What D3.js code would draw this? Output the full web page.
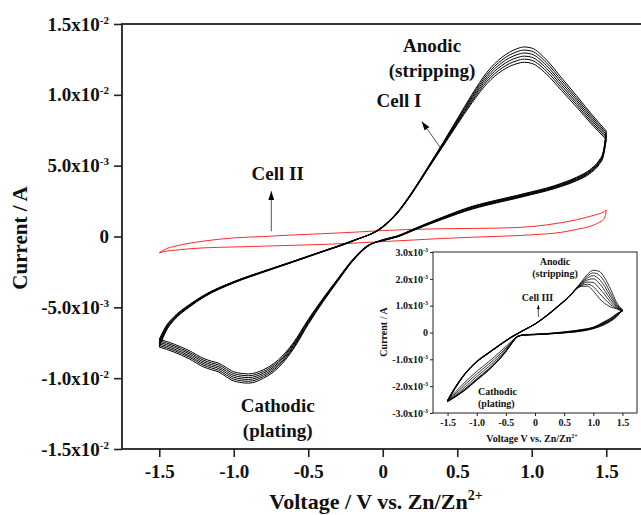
<!DOCTYPE html>
<html>
<head>
<meta charset="utf-8" />
<script src="https://d3js.org/d3.v7.min.js"></script>
<style>
  body { margin: 0; background: #fff; }
  svg text { font-family: "Liberation Serif", "Times New Roman", serif; font-weight: bold; fill: #111; }
</style>
</head>
<body>
<script>
// ---- main plot data (current in mA) ----
// Cell I, forward sweep (-1.5 -> 1.5 V), one row per cycle
var cellIFwdV = [-1.5,-1.45,-1.4,-1.3,-1.2,-1.0,-0.8,-0.6,-0.4,-0.2,0.0,0.1,0.2,0.3,0.4,0.5,0.6,0.7,0.8,0.9,0.95,1.0,1.1,1.2,1.3,1.4,1.5];
var cellIFwdI = [
  [-7.80,-6.60,-5.90,-5.00,-4.28,-3.28,-2.52,-1.80,-1.07,-0.33,0.72,1.75,3.20,4.85,6.55,8.30,10.05,11.60,12.65,13.25,13.38,13.30,12.45,11.20,9.95,8.65,7.45],
  [-7.69,-6.53,-5.85,-4.96,-4.25,-3.26,-2.50,-1.79,-1.06,-0.32,0.70,1.73,3.18,4.82,6.50,8.22,9.93,11.44,12.46,13.04,13.16,13.08,12.25,11.02,9.79,8.51,7.33],
  [-7.58,-6.46,-5.80,-4.93,-4.22,-3.24,-2.49,-1.78,-1.05,-0.31,0.69,1.71,3.15,4.79,6.45,8.14,9.81,11.28,12.27,12.83,12.95,12.87,12.05,10.84,9.63,8.37,7.21],
  [-7.47,-6.39,-5.75,-4.89,-4.20,-3.22,-2.47,-1.76,-1.04,-0.30,0.67,1.69,3.13,4.76,6.40,8.06,9.69,11.12,12.08,12.62,12.73,12.65,11.85,10.66,9.47,8.23,7.09],
  [-7.36,-6.32,-5.70,-4.86,-4.17,-3.20,-2.46,-1.75,-1.03,-0.29,0.66,1.67,3.10,4.73,6.35,7.98,9.57,10.96,11.89,12.41,12.52,12.44,11.65,10.48,9.31,8.09,6.97],
  [-7.25,-6.25,-5.65,-4.82,-4.14,-3.18,-2.44,-1.74,-1.02,-0.28,0.64,1.65,3.08,4.70,6.30,7.90,9.45,10.80,11.70,12.20,12.30,12.22,11.45,10.30,9.15,7.95,6.85]
];
// Cell I, reverse sweep (1.5 -> -1.5 V)
var cellIRevV = [1.5,1.48,1.45,1.4,1.3,1.2,1.1,1.0,0.9,0.8,0.7,0.6,0.5,0.4,0.3,0.2,0.1,0.0,-0.1,-0.2,-0.3,-0.4,-0.5,-0.6,-0.7,-0.8,-0.9,-1.0,-1.05,-1.1,-1.15,-1.2,-1.3,-1.4,-1.5];
var cellIRevI = [
  [7.45,6.00,5.35,4.80,4.18,3.76,3.42,3.16,2.90,2.66,2.41,2.13,1.77,1.36,0.94,0.50,0.05,-0.22,-0.70,-1.72,-3.13,-4.60,-6.20,-7.95,-9.25,-10.00,-10.35,-10.20,-9.90,-9.57,-9.40,-9.22,-8.63,-8.16,-7.80],
  [7.33,5.93,5.29,4.74,4.13,3.72,3.38,3.12,2.86,2.62,2.37,2.09,1.73,1.33,0.92,0.48,0.03,-0.24,-0.68,-1.70,-3.09,-4.55,-6.13,-7.86,-9.14,-9.88,-10.22,-10.07,-9.77,-9.45,-9.28,-9.10,-8.51,-8.05,-7.69],
  [7.21,5.86,5.23,4.69,4.08,3.67,3.34,3.08,2.82,2.58,2.33,2.05,1.70,1.30,0.89,0.46,0.02,-0.25,-0.67,-1.67,-3.06,-4.50,-6.06,-7.77,-9.03,-9.76,-10.09,-9.94,-9.64,-9.32,-9.16,-8.98,-8.40,-7.94,-7.58],
  [7.09,5.79,5.17,4.63,4.03,3.63,3.30,3.04,2.78,2.54,2.29,2.01,1.66,1.27,0.87,0.44,0.00,-0.27,-0.65,-1.65,-3.02,-4.45,-5.99,-7.68,-8.92,-9.64,-9.96,-9.81,-9.51,-9.20,-9.04,-8.86,-8.28,-7.82,-7.47],
  [6.97,5.72,5.11,4.58,3.98,3.58,3.26,3.00,2.74,2.50,2.25,1.97,1.63,1.24,0.84,0.42,-0.01,-0.28,-0.64,-1.62,-2.99,-4.40,-5.92,-7.59,-8.81,-9.52,-9.83,-9.68,-9.38,-9.07,-8.92,-8.74,-8.17,-7.71,-7.36],
  [6.85,5.65,5.05,4.52,3.93,3.54,3.22,2.96,2.70,2.46,2.21,1.93,1.59,1.21,0.82,0.40,-0.03,-0.30,-0.62,-1.60,-2.95,-4.35,-5.85,-7.50,-8.70,-9.40,-9.70,-9.55,-9.25,-8.95,-8.80,-8.62,-8.05,-7.60,-7.25]
];
// Cell II (red)
var cellIIUpV = [-1.5,-1.45,-1.4,-1.3,-1.2,-1.0,-0.8,-0.6,-0.4,-0.2,0,0.2,0.4,0.6,0.8,1.0,1.1,1.2,1.3,1.4,1.45,1.48,1.5];
var cellIIUpI = [-1.15,-0.85,-0.70,-0.48,-0.32,-0.10,0.00,0.11,0.20,0.30,0.42,0.50,0.55,0.57,0.60,0.70,0.82,0.98,1.18,1.45,1.60,1.72,1.88];
var cellIILoV = [-1.5,-1.45,-1.4,-1.3,-1.2,-1.0,-0.8,-0.6,-0.4,-0.2,0,0.2,0.4,0.6,0.8,1.0,1.2,1.3,1.4,1.45,1.48,1.495,1.5];
var cellIILoI = [-1.15,-1.03,-0.97,-0.87,-0.80,-0.74,-0.68,-0.62,-0.56,-0.47,-0.36,-0.25,-0.14,-0.05,0.02,0.12,0.30,0.50,0.75,0.98,1.20,1.50,1.88];

var mainXTicks = [-1.5,-1.0,-0.5,0,0.5,1.0,1.5];
var mainXLabels = ["-1.5","-1.0","-0.5","0","0.5","1.0","1.5"];
var mainYTicks = [-15,-10,-5,0,5,10,15];
var mainYBase = ["-1.5x10","-1.0x10","-5.0x10","0","5.0x10","1.0x10","1.5x10"];
var mainYExp  = ["-2","-2","-3","","-3","-2","-2"];

// ---- inset data: Cell III (current in mA) ----
var cellIIIFwdV = [-1.5,-1.4,-1.2,-1.0,-0.8,-0.6,-0.4,-0.2,0,0.2,0.4,0.6,0.7,0.8,0.9,1.0,1.1,1.2,1.3,1.4,1.5];
var cellIIIFwdI = [
  [-2.58,-2.20,-1.55,-1.10,-0.78,-0.47,-0.18,0.07,0.32,0.64,1.00,1.39,1.63,1.90,2.17,2.32,2.28,2.02,1.60,1.12,0.85],
  [-2.57,-2.19,-1.55,-1.10,-0.78,-0.47,-0.18,0.07,0.32,0.64,1.00,1.38,1.63,1.87,2.10,2.22,2.14,1.86,1.45,1.05,0.84],
  [-2.56,-2.18,-1.54,-1.09,-0.77,-0.46,-0.17,0.07,0.32,0.63,0.99,1.38,1.62,1.84,2.03,2.12,1.99,1.70,1.33,1.00,0.83],
  [-2.55,-2.17,-1.54,-1.09,-0.77,-0.46,-0.17,0.08,0.32,0.63,0.99,1.37,1.62,1.81,1.96,2.00,1.84,1.55,1.22,0.97,0.82],
  [-2.54,-2.16,-1.53,-1.08,-0.76,-0.45,-0.16,0.08,0.31,0.62,0.98,1.37,1.61,1.78,1.88,1.86,1.66,1.40,1.12,0.93,0.81],
  [-2.53,-2.15,-1.53,-1.08,-0.76,-0.45,-0.16,0.08,0.31,0.62,0.98,1.36,1.61,1.75,1.80,1.71,1.47,1.24,1.03,0.90,0.80],
  [-2.52,-2.14,-1.52,-1.07,-0.75,-0.44,-0.15,0.09,0.31,0.61,0.97,1.36,1.60,1.72,1.73,1.55,1.28,1.08,0.95,0.88,0.80]
];
var cellIIIRevV = [1.5,1.4,1.3,1.2,1.0,0.8,0.6,0.4,0.2,0.0,-0.2,-0.3,-0.4,-0.5,-0.6,-0.8,-1.0,-1.2,-1.4,-1.5];
var cellIIIRevI = [
  [0.85,0.58,0.42,0.30,0.14,0.05,0.00,-0.03,-0.06,-0.08,-0.10,-0.16,-0.42,-0.72,-0.98,-1.42,-1.78,-2.15,-2.45,-2.58],
  [0.84,0.60,0.44,0.32,0.15,0.06,0.01,-0.03,-0.06,-0.08,-0.10,-0.16,-0.41,-0.71,-0.97,-1.41,-1.77,-2.14,-2.44,-2.57],
  [0.83,0.62,0.46,0.34,0.16,0.07,0.01,-0.02,-0.05,-0.08,-0.10,-0.16,-0.40,-0.70,-0.96,-1.39,-1.75,-2.12,-2.43,-2.56],
  [0.82,0.64,0.48,0.36,0.17,0.08,0.02,-0.02,-0.05,-0.07,-0.10,-0.15,-0.39,-0.68,-0.93,-1.36,-1.72,-2.10,-2.42,-2.55],
  [0.81,0.66,0.50,0.38,0.18,0.09,0.03,-0.01,-0.05,-0.07,-0.09,-0.15,-0.37,-0.63,-0.87,-1.28,-1.64,-2.03,-2.39,-2.54],
  [0.80,0.68,0.52,0.40,0.19,0.10,0.04,-0.01,-0.04,-0.07,-0.09,-0.14,-0.35,-0.58,-0.80,-1.19,-1.55,-1.94,-2.35,-2.53],
  [0.80,0.70,0.54,0.42,0.20,0.11,0.05,0.00,-0.04,-0.06,-0.09,-0.14,-0.32,-0.52,-0.72,-1.10,-1.45,-1.85,-2.30,-2.52]
];
var insetYTicks = [-3,-2,-1,0,1,2,3];
var insetYBase = ["-3.0x10","-2.0x10","-1.0x10","0","1.0x10","2.0x10","3.0x10"];
var insetYExp  = ["-3","-3","-3","","-3","-3","-3"];

var width = 641, height = 515;

var svg = d3.select("body").append("svg")
  .attr("width", width)
  .attr("height", height);

var defs = svg.append("defs");
function arrowMarker(id, len, wid) {
  defs.append("marker")
    .attr("id", id)
    .attr("markerUnits", "userSpaceOnUse")
    .attr("viewBox", "0 0 " + len + " " + wid)
    .attr("markerWidth", len).attr("markerHeight", wid)
    .attr("refX", len).attr("refY", wid / 2)
    .attr("orient", "auto")
    .append("path")
    .attr("d", "M0,0L" + len + "," + (wid / 2) + "L0," + wid + "Z")
    .attr("fill", "#000");
}
arrowMarker("head", 9, 6);
arrowMarker("headSmall", 4, 3);

// superscripted tick text
function supText(sel, base, exp, supSize, raise) {
  sel.text(null);
  sel.append("tspan").text(base);
  if (exp) sel.append("tspan").attr("font-size", supSize).attr("dy", -raise).text(exp);
}

function zip(vs, is) { return vs.map(function (v, i) { return [v, is[i]]; }); }

// ---------------- main plot ----------------
var x = d3.scaleLinear().domain([-1.75, 1.75]).range([122, 643.5]);
var y = d3.scaleLinear().domain([-15, 15]).range([449, 24]);

var line = d3.line()
  .x(function (d) { return x(d[0]); })
  .y(function (d) { return y(d[1]); })
  .curve(d3.curveMonotoneX);

var g = svg.append("g");

// Cell II
g.append("path").attr("d", line(zip(cellIIUpV, cellIIUpI)))
  .attr("fill", "none").attr("stroke", "#ff2a2a").attr("stroke-width", 1);
g.append("path").attr("d", line(zip(cellIILoV, cellIILoI)))
  .attr("fill", "none").attr("stroke", "#ff2a2a").attr("stroke-width", 1);

// Cell I cycles
cellIFwdI.forEach(function (row) {
  g.append("path").attr("d", line(zip(cellIFwdV, row)))
    .attr("fill", "none").attr("stroke", "#000").attr("stroke-width", 1);
});
cellIRevI.forEach(function (row) {
  g.append("path").attr("d", line(zip(cellIRevV, row)))
    .attr("fill", "none").attr("stroke", "#000").attr("stroke-width", 1);
});

// frame
svg.append("rect")
  .attr("x", x.range()[0]).attr("y", y.range()[1])
  .attr("width", x.range()[1] - x.range()[0])
  .attr("height", y.range()[0] - y.range()[1])
  .attr("fill", "none").attr("stroke", "#222").attr("stroke-width", 1.8);

var gy = svg.append("g")
  .attr("transform", "translate(" + x.range()[0] + ",0)")
  .call(d3.axisLeft(y).tickValues(mainYTicks).tickSize(8).tickPadding(5).tickSizeOuter(0));
gy.attr("font-size", 19).attr("font-family", null);
gy.select(".domain").remove();
gy.selectAll(".tick line").attr("stroke", "#222").attr("stroke-width", 1.6);
gy.selectAll(".tick text").each(function (d, i) {
  supText(d3.select(this), mainYBase[i], mainYExp[i], 11, 7);
});

var gx = svg.append("g")
  .attr("transform", "translate(0," + y.range()[0] + ")")
  .call(d3.axisBottom(x).tickValues(mainXTicks).tickSize(8).tickPadding(8).tickSizeOuter(0)
    .tickFormat(function (d, i) { return mainXLabels[i]; }));
gx.attr("font-size", 19).attr("font-family", null);
gx.select(".domain").remove();
gx.selectAll(".tick line").attr("stroke", "#222").attr("stroke-width", 1.6);

// axis titles
var xt = svg.append("text").attr("x", 376).attr("y", 509)
  .attr("text-anchor", "middle").attr("font-size", 22);
xt.append("tspan").text("Voltage / V vs. Zn/Zn");
xt.append("tspan").attr("font-size", 14).attr("dy", -9).text("2+");

svg.append("text")
  .attr("transform", "translate(27,238) rotate(-90)")
  .attr("text-anchor", "middle").attr("font-size", 21)
  .text("Current / A");

// annotations
function label(gs, xs, ys, v, i, txt, size, anchor) {
  gs.append("text").attr("x", xs(v)).attr("y", ys(i))
    .attr("text-anchor", anchor || "middle").attr("font-size", size).text(txt);
}
function arrow(gs, xs, ys, v0, i0, v1, i1, marker) {
  gs.append("line")
    .attr("x1", xs(v0)).attr("y1", ys(i0)).attr("x2", xs(v1)).attr("y2", ys(i1))
    .attr("stroke", "#555").attr("stroke-width", 1)
    .attr("marker-end", "url(#" + marker + ")");
}
label(svg, x, y, 0.331, 13.05, "Anodic", 19);
label(svg, x, y, 0.331, 11.28, "(stripping)", 19);
label(svg, x, y, 0.109, 9.15, "Cell I", 19);
arrow(svg, x, y, 0.385, 6.3, 0.262, 8.12, "head");
label(svg, x, y, -0.705, 4.0, "Cell II", 19);
arrow(svg, x, y, -0.748, 0.37, -0.748, 3.2, "head");
label(svg, x, y, -0.705, -12.39, "Cathodic", 19);
label(svg, x, y, -0.705, -14.15, "(plating)", 19);

// ---------------- inset ----------------
var ix = d3.scaleLinear().domain([-1.75, 1.75]).range([433, 637]);
var iy = d3.scaleLinear().domain([-3, 3]).range([413, 252]);

var iline = d3.line()
  .x(function (d) { return ix(d[0]); })
  .y(function (d) { return iy(d[1]); })
  .curve(d3.curveMonotoneX);

var gi = svg.append("g");
gi.append("rect")
  .attr("x", ix.range()[0]).attr("y", iy.range()[1])
  .attr("width", ix.range()[1] - ix.range()[0])
  .attr("height", iy.range()[0] - iy.range()[1])
  .attr("fill", "#fff");

cellIIIFwdI.forEach(function (row) {
  gi.append("path").attr("d", iline(zip(cellIIIFwdV, row)))
    .attr("fill", "none").attr("stroke", "#000").attr("stroke-width", 0.8);
});
cellIIIRevI.forEach(function (row) {
  gi.append("path").attr("d", iline(zip(cellIIIRevV, row)))
    .attr("fill", "none").attr("stroke", "#000").attr("stroke-width", 0.8);
});

gi.append("rect")
  .attr("x", ix.range()[0]).attr("y", iy.range()[1])
  .attr("width", ix.range()[1] - ix.range()[0])
  .attr("height", iy.range()[0] - iy.range()[1])
  .attr("fill", "none").attr("stroke", "#222").attr("stroke-width", 1);

var giy = gi.append("g")
  .attr("transform", "translate(" + ix.range()[0] + ",0)")
  .call(d3.axisLeft(iy).tickValues(insetYTicks).tickSize(3).tickPadding(2).tickSizeOuter(0));
giy.attr("font-size", 10).attr("font-family", null);
giy.select(".domain").remove();
giy.selectAll(".tick line").attr("stroke", "#222");
giy.selectAll(".tick text").each(function (d, i) {
  supText(d3.select(this), insetYBase[i], insetYExp[i], 6, 4);
});

var gix = gi.append("g")
  .attr("transform", "translate(0," + iy.range()[0] + ")")
  .call(d3.axisBottom(ix).tickValues(mainXTicks).tickSize(3).tickPadding(3).tickSizeOuter(0)
    .tickFormat(function (d, i) { return mainXLabels[i]; }));
gix.attr("font-size", 10).attr("font-family", null);
gix.select(".domain").remove();
gix.selectAll(".tick line").attr("stroke", "#222");

var ixt = gi.append("text").attr("x", 532).attr("y", 441.5)
  .attr("text-anchor", "middle").attr("font-size", 10);
ixt.append("tspan").text("Voltage V vs. Zn/Zn");
ixt.append("tspan").attr("font-size", 6).attr("dy", -4).text("2+");

gi.append("text")
  .attr("transform", "translate(387,332) rotate(-90)")
  .attr("text-anchor", "middle").attr("font-size", 10)
  .text("Current / A");

label(gi, ix, iy, 0.343, 2.51, "Anodic", 10);
label(gi, ix, iy, 0.343, 2.07, "(stripping)", 10);
label(gi, ix, iy, 0.043, 1.17, "Cell III", 10);
arrow(gi, ix, iy, 0.057, 0.58, 0.057, 1.02, "headSmall");
label(gi, ix, iy, -0.978, -2.34, "Cathodic", 10, "start");
label(gi, ix, iy, -0.978, -2.77, "(plating)", 10, "start");
</script>
</body>
</html>
